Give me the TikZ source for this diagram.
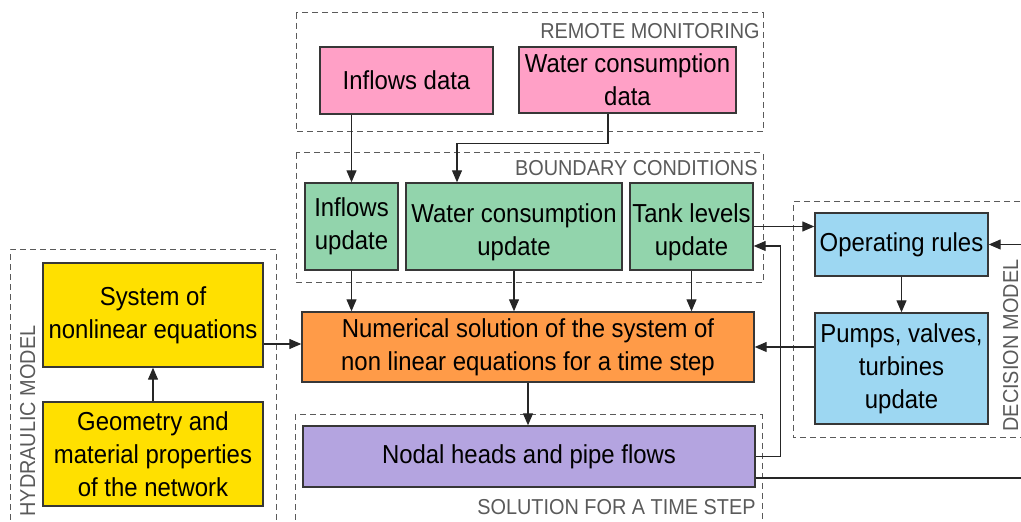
\documentclass[tikz,border=0pt]{standalone}
\usepackage{fontspec}
\setmainfont{Liberation Sans}[FakeStretch=0.92]
\usepackage{tikz}
\usetikzlibrary{arrows.meta, positioning, calc}
\definecolor{monpink}{RGB}{255, 160, 198}
\definecolor{bcgreen}{RGB}{146, 212, 172}
\definecolor{hydyellow}{RGB}{255, 224, 0}
\definecolor{numorange}{RGB}{255, 155, 72}
\definecolor{solpurple}{RGB}{180, 164, 224}
\definecolor{decblue}{RGB}{157, 215, 242}
\definecolor{boxline}{RGB}{55, 55, 55}
\definecolor{framegray}{RGB}{90, 90, 90}

\tikzset{
  block/.style={draw=boxline, line width=0.7pt, inner sep=0pt, align=center,
                font=\fontsize{13}{16.5}\selectfont},
  monbox/.style={block, fill=monpink},
  bcbox/.style={block, fill=bcgreen},
  hydbox/.style={block, fill=hydyellow},
  numbox/.style={block, fill=numorange},
  solbox/.style={block, fill=solpurple},
  decbox/.style={block, fill=decblue},
  groupframe/.style={draw=framegray, line width=0.5pt, dash pattern=on 3pt off 2pt},
  grouplabel/.style={text=framegray, inner sep=0pt, font=\fontsize{10.8}{12}\selectfont},
  arr/.style={draw=black!85, line width=0.6pt, -{Triangle[length=6pt, width=5pt]}},
  link/.style={draw=black!85, line width=0.6pt}
}

\begin{document}
\begin{tikzpicture}[x=0.5pt, y=-0.5pt]
  \useasboundingbox (0,0) rectangle (1021,522);
  \clip (0,0) rectangle (1021,522);

  % group frames
  \draw[groupframe] (296,13) rectangle (763,132);
  \draw[groupframe] (296,153) rectangle (763,283);
  \draw[groupframe] (10,540) -- (10,250) -- (276,250) -- (276,540);
  \draw[groupframe] (295,540) -- (295,415) -- (762,415) -- (762,540);
  \draw[groupframe] (1040,202) -- (793,202) -- (793,438) -- (1040,438);

  \node[grouplabel, anchor=base east] (remotelbl) at (760,39) {REMOTE MONITORING};
  \node[grouplabel, anchor=base east] (boundlbl) at (758,176) {BOUNDARY CONDITIONS};
  \node[grouplabel, anchor=base east] (sollbl) at (756,515) {SOLUTION FOR A TIME STEP};
  \node[grouplabel, anchor=base west, rotate=90] (hydlbl) at (35,517) {HYDRAULIC MODEL};
  \node[grouplabel, anchor=base west, rotate=90] (declbl) at (1018,432) {DECISION MODEL};

  % remote monitoring
  \node[monbox, minimum width=86.5pt, minimum height=33.5pt] (inflowsdata) at (406.5,80.5) {Inflows data};
  \node[monbox, minimum width=108.5pt, minimum height=33pt] (wcdata) at (627.5,80) {Water consumption\\data};

  % boundary conditions
  \node[bcbox, minimum width=46.5pt, minimum height=43.5pt] (inflowsupd) at (351.5,226.5) {Inflows\\update};
  \node[bcbox, minimum width=108pt, minimum height=43.5pt] (wcupd) at (514,226.5) {\rule{0pt}{15pt}Water consumption\\update};
  \node[bcbox, minimum width=61.5pt, minimum height=43.5pt] (tankupd) at (691.5,226.5) {\rule{0pt}{15pt}Tank levels\\update};

  % hydraulic model
  \node[hydbox, minimum width=110pt, minimum height=52pt] (sysnle) at (153,315) {System of\\nonlinear equations};
  \node[hydbox, minimum width=110pt, minimum height=52pt] (geometry) at (153,454) {Geometry and\\material properties\\of the network};

  % solution
  \node[numbox, minimum width=226pt, minimum height=35pt] (numsol) at (528,347) {Numerical solution of the system of\\non linear equations for a time step};
  \node[solbox, minimum width=226pt, minimum height=30.5pt] (nodal) at (529,456.5) {Nodal heads and pipe flows};

  % decision model
  \node[decbox, minimum width=86.5pt, minimum height=31.5pt] (oprules) at (901.5,244.5) {Operating rules};
  \node[decbox, minimum width=86.5pt, minimum height=55.5pt] (pumps) at (901.5,368.5) {Pumps, valves,\\turbines\\update};

  \coordinate (decin) at (1021,244.5);
  \coordinate (solout) at (1021,478);

  % connectors
  \draw[arr] (inflowsupd.north |- inflowsdata.south) -- (inflowsupd.north);
  \draw[arr] ([xshift=-9.75pt]wcdata.south) -- ++(0,30) -| ([xshift=-28.5pt]wcupd.north);
  \draw[arr] (inflowsupd.south) -- (inflowsupd.south |- numsol.north);
  \draw[arr] (wcupd.south) -- (wcupd.south |- numsol.north);
  \draw[arr] (tankupd.south) -- (tankupd.south |- numsol.north);
  \draw[arr] (geometry.north) -- (sysnle.south);
  \draw[arr] ([yshift=-14.5pt]sysnle.east) -- ([yshift=-14.5pt]sysnle.east -| numsol.west);
  \draw[arr] (numsol.south) -- (numsol.south |- nodal.north);
  \draw[arr] (oprules.south) -- (pumps.north);
  \draw[arr] (pumps.west |- numsol.east) -- (numsol.east);
  \draw[arr] (tankupd.east) -- (tankupd.east -| oprules.west);
  \draw[arr] (decin) -- (oprules.east);
  \draw[arr] (nodal.east) -- ++(25,0) |- ([yshift=-9.75pt]tankupd.east);
  \draw[link] (nodal.east |- solout) -- (solout);
\end{tikzpicture}
\end{document}
